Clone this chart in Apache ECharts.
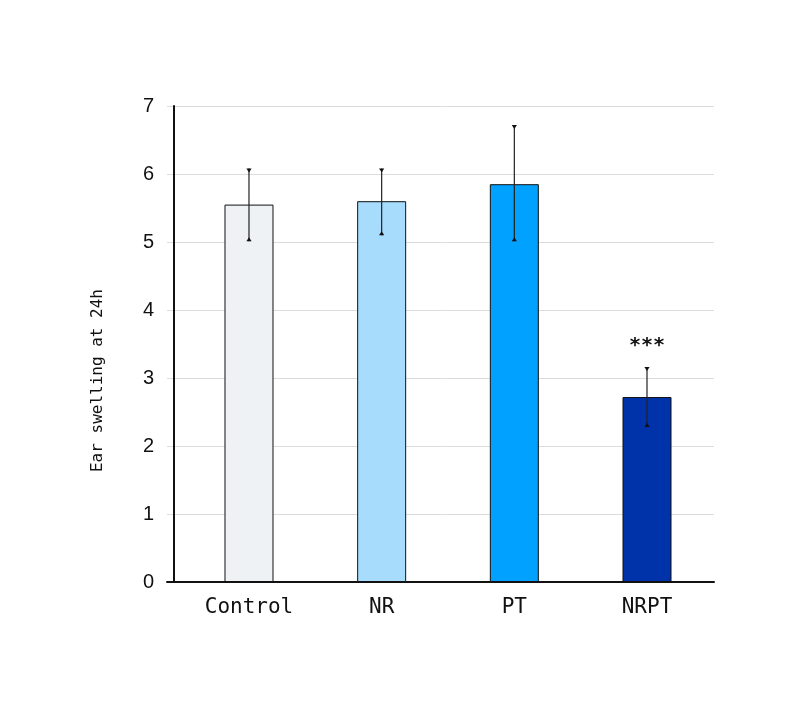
<!DOCTYPE html>
<html>
<head>
<meta charset="utf-8">
<script src="https://cdn.jsdelivr.net/npm/echarts@6/dist/echarts.min.js"></script>
<style>html,body{margin:0;padding:0;background:#fff}#c{width:800px;height:711px}</style>
</head>
<body>
<div id="c"></div>
<script>
const categories = ['Control', 'NR', 'PT', 'NRPT'];
const means = [5.55, 5.60, 5.85, 2.72];
const errLow = [5.01, 5.10, 5.01, 2.28];
const errHigh = [6.08, 6.08, 6.72, 3.16];
const significance = ['', '', '', '***'];
const barColors = ['#eef2f5', '#a7dcfc', '#00a1ff', '#0033aa'];
const yTicks = [0, 1, 2, 3, 4, 5, 6, 7];

const chart = echarts.init(document.getElementById('c'), null, {renderer: 'canvas'});
const mono = 'DejaVu Sans Mono';

const option = {
  animation: false,
  backgroundColor: '#fff',
  grid: {left: 167, right: 86, top: 106, bottom: 129, containLabel: false},
  xAxis: {
    type: 'value',
    min: -0.618,
    max: 3.505,
    axisLine: {show: true, onZero: false, lineStyle: {color: '#111', width: 2}},
    axisTick: {show: false},
    splitLine: {show: false},
    axisLabel: {
      customValues: [0, 1, 2, 3],
      formatter: v => categories[Math.round(v)],
      fontFamily: mono, fontSize: 21, color: '#111', margin: 15
    }
  },
  yAxis: {
    type: 'value',
    min: 0, max: 7, interval: 1,
    offset: -7,
    axisLine: {show: true, onZero: false, lineStyle: {color: '#111', width: 2}},
    axisTick: {show: false},
    splitLine: {show: true, lineStyle: {color: '#dcdcdc', width: 1}},
    axisLabel: {
      formatter: v => yTicks.includes(v) ? String(v) : '',
      fontFamily: 'Liberation Sans', fontSize: 20, color: '#111', margin: 20
    }
  },
  graphic: [{
    type: 'text',
    left: 90, top: 289,
    rotation: Math.PI / 2,
    style: {text: 'Ear swelling at 24h', font: '16px "DejaVu Sans Mono"', fill: '#111'}
  }],
  series: [
    {
      type: 'bar',
      barWidth: 49,
      data: means.map((m, i) => ({value: [i, m], itemStyle: {color: barColors[i]}})),
      itemStyle: {borderColor: '#111', borderWidth: 1}
    },
    {
      type: 'custom',
      data: categories.map((c, i) => [i, errLow[i], errHigh[i]]),
      z: 10,
      renderItem: function (params, api) {
        const i = api.value(0);
        const lo = api.coord([i, api.value(1)]);
        const hi = api.coord([i, api.value(2)]);
        const x = lo[0];
        const s = 2.6, h = 4;
        const children = [
          {type: 'line', shape: {x1: x, y1: hi[1], x2: x, y2: lo[1]}, style: {stroke: '#222', lineWidth: 1.2}},
          {type: 'polygon', shape: {points: [[x - s, hi[1]], [x + s, hi[1]], [x, hi[1] + h]]}, style: {fill: '#111'}},
          {type: 'polygon', shape: {points: [[x - s, lo[1]], [x + s, lo[1]], [x, lo[1] - h]]}, style: {fill: '#111'}}
        ];
        const sig = significance[params.dataIndex];
        if (sig) {
          children.push({type: 'text', style: {text: sig, x: x, y: hi[1] - 21, align: 'center', verticalAlign: 'middle', font: 'bold 20px "DejaVu Sans Mono"', fill: '#111'}});
        }
        return {type: 'group', children: children};
      }
    }
  ]
};
chart.setOption(option);
</script>
</body>
</html>
